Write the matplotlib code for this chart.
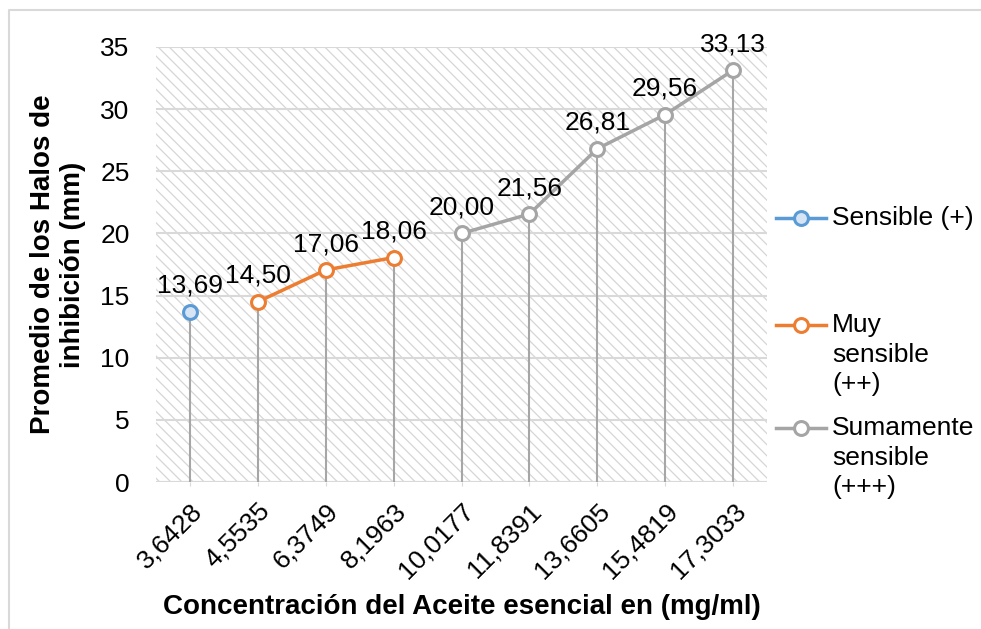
import matplotlib
matplotlib.use("Agg")
import matplotlib.pyplot as plt
from matplotlib.patches import Rectangle
from matplotlib.lines import Line2D
import numpy as np

plt.rcParams['font.family'] = ['Liberation Sans', 'DejaVu Sans']
plt.rcParams['hatch.linewidth'] = 0.9

# concentraciones (mg/ml) y promedio de halos (mm)
concentraciones = ['3,6428', '4,5535', '6,3749', '8,1963', '10,0177',
                   '11,8391', '13,6605', '15,4819', '17,3033']
halos = [13.69, 14.50, 17.06, 18.06, 20.00, 21.56, 26.81, 29.56, 33.13]
etiquetas = ['13,69', '14,50', '17,06', '18,06', '20,00', '21,56', '26,81', '29,56', '33,13']

series_nombres = ['Sensible (+)', 'Muy\nsensible\n(++)', 'Sumamente\nsensible\n(+++)']
series_idx = [[0], [1, 2, 3], [4, 5, 6, 7, 8]]
colores = ['#5b9bd5', '#ed7d31', '#a5a5a5']
rellenos = ['#d6e4f3', 'white', 'white']

fs = 19

fig = plt.figure(figsize=(9.81, 6.29), dpi=100)
ax = fig.add_axes([156/981, 1 - 482/629, (767-156)/981, (482-47)/629])

x = np.arange(len(concentraciones))
ax.set_xlim(-0.5, len(concentraciones) - 0.5)
ax.set_ylim(0, 35)

# fondo rayado
ax.add_patch(Rectangle((0, 0), 1, 1, transform=ax.transAxes, facecolor='white',
                       edgecolor='#d6d6d6', hatch='\\' * 3, linewidth=0, zorder=0))

ax.set_yticks(np.arange(0, 36, 5))
ax.yaxis.grid(True, color='#d9d9d9', linewidth=1.5, zorder=1)
ax.set_axisbelow(True)
for s in ax.spines.values():
    s.set_visible(False)
ax.axhline(0, color='#d9d9d9', linewidth=1.5, zorder=1)

# lineas de caida
ax.vlines(x, 0, halos, color='#a6a6a6', linewidth=1.5, zorder=2)

for idx, c, f in zip(series_idx, colores, rellenos):
    ax.plot(x[idx], [halos[i] for i in idx], '-o', color=c, linewidth=2.5,
            markersize=10, markerfacecolor=f, markeredgecolor=c,
            markeredgewidth=2.2, zorder=3)

for xi, yi, t in zip(x, halos, etiquetas):
    ax.annotate(t, (xi, yi), xytext=(0, 10), textcoords='offset points',
                ha='center', va='bottom', fontsize=fs, zorder=4)

ax.set_xticks(x)
ax.set_xticklabels(concentraciones, rotation=45, ha='right', rotation_mode='anchor',
                   fontsize=fs)
ax.tick_params(axis='y', labelsize=fs, length=0, pad=19)
ax.tick_params(axis='x', length=3, color='#d9d9d9', pad=9)

ax.set_ylabel('Promedio de los Halos de\ninhibición (mm)', fontsize=20,
              fontweight='bold', labelpad=10)
ax.set_xlabel('Concentración del Aceite esencial en (mg/ml)', fontsize=20,
              fontweight='bold', labelpad=8)

# leyenda manual
leg_y = [218, 325, 428]
for nombre, c, f, yy in zip(series_nombres, colores, rellenos, leg_y):
    yf = 1 - yy / 629
    fig.add_artist(Line2D([776/981, 826/981], [yf, yf], color=c, linewidth=2.5,
                          transform=fig.transFigure))
    fig.add_artist(Line2D([801/981], [yf], marker='o', markersize=10,
                          markerfacecolor=f, markeredgecolor=c, markeredgewidth=2.2,
                          transform=fig.transFigure))
    fig.text(832/981, yf + 12/629, nombre, fontsize=fs, va='top', ha='left',
             linespacing=1.3)

# borde exterior (solo izquierda y arriba visibles)
fig.add_artist(Line2D([8.5/981, 8.5/981, 1], [0, 1 - 9.5/629, 1 - 9.5/629],
                      color='#d9d9d9', linewidth=1.5, transform=fig.transFigure))

fig.savefig('out.png', dpi=100)
